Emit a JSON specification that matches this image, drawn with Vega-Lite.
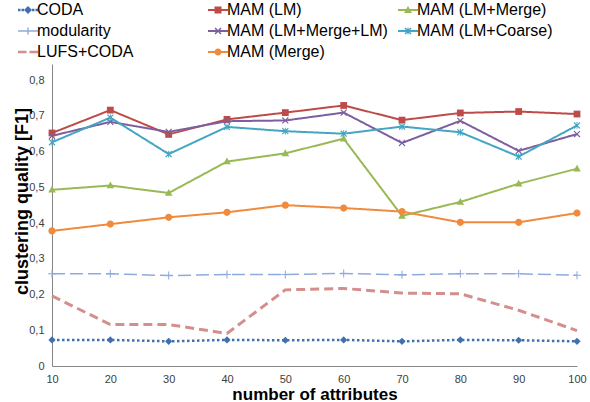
{
  "$schema": "https://vega.github.io/schema/vega-lite/v6.json",
  "width": 525,
  "height": 302,
  "autosize": {"type": "none"},
  "padding": {"left": 52, "top": 64, "right": 13, "bottom": 36},
  "background": "white",
  "config": {"view": {"stroke": null}, "font": "Liberation Sans"},
  "data": {"values": [
    {"series": "CODA", "x": 10, "y": 0.073}, {"series": "CODA", "x": 20, "y": 0.073}, {"series": "CODA", "x": 30, "y": 0.069}, {"series": "CODA", "x": 40, "y": 0.073}, {"series": "CODA", "x": 50, "y": 0.072}, {"series": "CODA", "x": 60, "y": 0.073}, {"series": "CODA", "x": 70, "y": 0.069}, {"series": "CODA", "x": 80, "y": 0.073}, {"series": "CODA", "x": 90, "y": 0.072}, {"series": "CODA", "x": 100, "y": 0.069},
    {"series": "MAM (LM)", "x": 10, "y": 0.652}, {"series": "MAM (LM)", "x": 20, "y": 0.716}, {"series": "MAM (LM)", "x": 30, "y": 0.648}, {"series": "MAM (LM)", "x": 40, "y": 0.69}, {"series": "MAM (LM)", "x": 50, "y": 0.709}, {"series": "MAM (LM)", "x": 60, "y": 0.729}, {"series": "MAM (LM)", "x": 70, "y": 0.688}, {"series": "MAM (LM)", "x": 80, "y": 0.708}, {"series": "MAM (LM)", "x": 90, "y": 0.712}, {"series": "MAM (LM)", "x": 100, "y": 0.705},
    {"series": "MAM (LM+Merge)", "x": 10, "y": 0.493}, {"series": "MAM (LM+Merge)", "x": 20, "y": 0.505}, {"series": "MAM (LM+Merge)", "x": 30, "y": 0.484}, {"series": "MAM (LM+Merge)", "x": 40, "y": 0.572}, {"series": "MAM (LM+Merge)", "x": 50, "y": 0.595}, {"series": "MAM (LM+Merge)", "x": 60, "y": 0.636}, {"series": "MAM (LM+Merge)", "x": 70, "y": 0.42}, {"series": "MAM (LM+Merge)", "x": 80, "y": 0.459}, {"series": "MAM (LM+Merge)", "x": 90, "y": 0.51}, {"series": "MAM (LM+Merge)", "x": 100, "y": 0.552},
    {"series": "modularity", "x": 10, "y": 0.258}, {"series": "modularity", "x": 20, "y": 0.258}, {"series": "modularity", "x": 30, "y": 0.253}, {"series": "modularity", "x": 40, "y": 0.256}, {"series": "modularity", "x": 50, "y": 0.256}, {"series": "modularity", "x": 60, "y": 0.259}, {"series": "modularity", "x": 70, "y": 0.255}, {"series": "modularity", "x": 80, "y": 0.258}, {"series": "modularity", "x": 90, "y": 0.258}, {"series": "modularity", "x": 100, "y": 0.254},
    {"series": "MAM (LM+Merge+LM)", "x": 10, "y": 0.644}, {"series": "MAM (LM+Merge+LM)", "x": 20, "y": 0.683}, {"series": "MAM (LM+Merge+LM)", "x": 30, "y": 0.655}, {"series": "MAM (LM+Merge+LM)", "x": 40, "y": 0.685}, {"series": "MAM (LM+Merge+LM)", "x": 50, "y": 0.687}, {"series": "MAM (LM+Merge+LM)", "x": 60, "y": 0.709}, {"series": "MAM (LM+Merge+LM)", "x": 70, "y": 0.624}, {"series": "MAM (LM+Merge+LM)", "x": 80, "y": 0.686}, {"series": "MAM (LM+Merge+LM)", "x": 90, "y": 0.602}, {"series": "MAM (LM+Merge+LM)", "x": 100, "y": 0.649},
    {"series": "MAM (LM+Coarse)", "x": 10, "y": 0.626}, {"series": "MAM (LM+Coarse)", "x": 20, "y": 0.695}, {"series": "MAM (LM+Coarse)", "x": 30, "y": 0.593}, {"series": "MAM (LM+Coarse)", "x": 40, "y": 0.669}, {"series": "MAM (LM+Coarse)", "x": 50, "y": 0.657}, {"series": "MAM (LM+Coarse)", "x": 60, "y": 0.65}, {"series": "MAM (LM+Coarse)", "x": 70, "y": 0.67}, {"series": "MAM (LM+Coarse)", "x": 80, "y": 0.654}, {"series": "MAM (LM+Coarse)", "x": 90, "y": 0.586}, {"series": "MAM (LM+Coarse)", "x": 100, "y": 0.673},
    {"series": "LUFS+CODA", "x": 10, "y": 0.196}, {"series": "LUFS+CODA", "x": 20, "y": 0.116}, {"series": "LUFS+CODA", "x": 30, "y": 0.116}, {"series": "LUFS+CODA", "x": 40, "y": 0.091}, {"series": "LUFS+CODA", "x": 50, "y": 0.213}, {"series": "LUFS+CODA", "x": 60, "y": 0.217}, {"series": "LUFS+CODA", "x": 70, "y": 0.204}, {"series": "LUFS+CODA", "x": 80, "y": 0.202}, {"series": "LUFS+CODA", "x": 90, "y": 0.156}, {"series": "LUFS+CODA", "x": 100, "y": 0.099},
    {"series": "MAM (Merge)", "x": 10, "y": 0.378}, {"series": "MAM (Merge)", "x": 20, "y": 0.397}, {"series": "MAM (Merge)", "x": 30, "y": 0.416}, {"series": "MAM (Merge)", "x": 40, "y": 0.43}, {"series": "MAM (Merge)", "x": 50, "y": 0.45}, {"series": "MAM (Merge)", "x": 60, "y": 0.442}, {"series": "MAM (Merge)", "x": 70, "y": 0.432}, {"series": "MAM (Merge)", "x": 80, "y": 0.402}, {"series": "MAM (Merge)", "x": 90, "y": 0.402}, {"series": "MAM (Merge)", "x": 100, "y": 0.428}
  ]},
  "encoding": {
    "x": {
      "field": "x", "type": "quantitative",
      "scale": {"domain": [10, 100], "nice": false, "zero": false},
      "axis": {
        "values": [10, 20, 30, 40, 50, 60, 70, 80, 90, 100],
        "grid": false, "ticks": false, "domainColor": "#868686", "domainWidth": 1,
        "labelFont": "Liberation Sans", "labelFontSize": 11, "labelColor": "#404040", "labelPadding": 7, "labelFlush": false,
        "title": "number of attributes", "titleFont": "Liberation Sans", "titleFontSize": 17, "titleFontWeight": "bold", "titleColor": "#000000",
        "titleBaseline": "middle", "titleY": 28
      }
    },
    "y": {
      "field": "y", "type": "quantitative",
      "scale": {"domain": [0, 0.845], "nice": false, "zero": true},
      "axis": {
        "values": [0, 0.1, 0.2, 0.3, 0.4, 0.5, 0.6, 0.7, 0.8],
        "labelExpr": "datum.value === 0 ? '0' : replace(format(datum.value, '.1f'), '.', ',')",
        "grid": false, "ticks": false, "domainColor": "#868686", "domainWidth": 1,
        "labelFont": "Liberation Sans", "labelFontSize": 11, "labelColor": "#404040", "labelPadding": 8,
        "title": "clustering quality [F1]", "titleFont": "Liberation Sans", "titleFontSize": 18, "titleFontWeight": "bold", "titleColor": "#000000",
        "titleBaseline": "middle", "titleAlign": "center", "titleAngle": 270, "titleX": -30, "titleY": 137
      }
    },
    "color": {
      "field": "series", "type": "nominal",
      "scale": {
        "domain": ["CODA", "MAM (LM)", "MAM (LM+Merge)", "modularity", "MAM (LM+Merge+LM)", "MAM (LM+Coarse)", "LUFS+CODA", "MAM (Merge)"],
        "range": ["#4170B0", "#BE4B48", "#98B954", "#8FAADC", "#7D5FA0", "#44A6C2", "#D48F8D", "#F08A3C"]
      },
      "legend": {
        "title": null, "orient": "none", "legendX": -41, "legendY": -64, "direction": "horizontal",
        "columns": 3, "gridAlign": "all", "columnPadding": 3, "rowPadding": 3,
        "symbolSize": 400, "symbolStrokeWidth": 0, "symbolOffset": 7, "labelOffset": -1, "labelFont": "Liberation Sans", "labelFontSize": 16, "labelColor": "#000000", "labelLimit": 300
      }
    }
  },
  "layer": [
    {
      "mark": {"type": "line", "strokeCap": "butt"},
      "encoding": {
        "strokeDash": {
          "field": "series", "type": "nominal",
          "scale": {
            "domain": ["CODA", "MAM (LM)", "MAM (LM+Merge)", "modularity", "MAM (LM+Merge+LM)", "MAM (LM+Coarse)", "LUFS+CODA", "MAM (Merge)"],
            "range": [[2.5, 2.5], [1, 0], [1, 0], [13, 5], [1, 0], [1, 0], [9, 5], [1, 0]]
          },
          "legend": null
        },
        "strokeWidth": {
          "condition": [
            {"test": "datum.series === 'LUFS+CODA'", "value": 3},
            {"test": "datum.series === 'CODA'", "value": 2.5},
            {"test": "datum.series === 'modularity'", "value": 1.5}
          ],
          "value": 2
        }
      }
    },
    {
      "transform": [{"filter": "datum.series === 'CODA'"}],
      "mark": {"type": "point", "filled": true, "size": 64, "opacity": 1, "shape": "M0,-0.9L0.9,0L0,0.9L-0.9,0Z"}
    },
    {
      "transform": [{"filter": "datum.series === 'MAM (LM)'"}],
      "mark": {"type": "point", "filled": true, "size": 64, "opacity": 1, "shape": "M-0.85,-0.85H0.85V0.85H-0.85Z"}
    },
    {
      "transform": [{"filter": "datum.series === 'MAM (LM+Merge)'"}],
      "mark": {"type": "point", "filled": true, "size": 64, "opacity": 1, "shape": "M0,-1L0.95,0.7H-0.95Z"}
    },
    {
      "transform": [{"filter": "datum.series === 'modularity'"}],
      "mark": {"type": "point", "filled": true, "size": 64, "opacity": 1, "shape": "M-1,-0.13H1V0.13H-1Z M-0.13,-1H0.13V1H-0.13Z"}
    },
    {
      "transform": [{"filter": "datum.series === 'MAM (LM+Merge+LM)'"}],
      "mark": {"type": "point", "filled": true, "size": 64, "opacity": 1, "shape": "M-0.85,-0.64L-0.64,-0.85L0,-0.21L0.64,-0.85L0.85,-0.64L0.21,0L0.85,0.64L0.64,0.85L0,0.21L-0.64,0.85L-0.85,0.64L-0.21,0Z"}
    },
    {
      "transform": [{"filter": "datum.series === 'MAM (LM+Coarse)'"}],
      "mark": {"type": "point", "filled": true, "size": 64, "opacity": 1, "shape": "M-0.85,-0.64L-0.64,-0.85L0,-0.21L0.64,-0.85L0.85,-0.64L0.21,0L0.85,0.64L0.64,0.85L0,0.21L-0.64,0.85L-0.85,0.64L-0.21,0Z M-0.12,-0.85H0.12V0.85H-0.12Z"}
    },
    {
      "transform": [{"filter": "datum.series === 'MAM (Merge)'"}],
      "mark": {"type": "point", "filled": true, "size": 64, "opacity": 1, "shape": "M-0.9,0A0.9,0.9 0 1,1 0.9,0A0.9,0.9 0 1,1 -0.9,0Z"}
    },
    {
      "transform": [{"filter": "false"}],
      "mark": {"type": "point", "filled": true, "opacity": 1},
      "encoding": {
        "shape": {
          "field": "series", "type": "nominal",
          "scale": {
            "domain": ["CODA", "MAM (LM)", "MAM (LM+Merge)", "modularity", "MAM (LM+Merge+LM)", "MAM (LM+Coarse)", "LUFS+CODA", "MAM (Merge)"],
            "range": [
              "M-1,-0.12H-0.75V0.12H-1Z M-0.65,-0.12H-0.4V0.12H-0.65Z M0.4,-0.12H0.65V0.12H0.4Z M0.75,-0.12H1V0.12H0.75Z M0,-0.4L0.4,0L0,0.4L-0.4,0Z",
              "M-1,-0.1H1V0.1H-1Z M-0.35,-0.35H0.35V0.35H-0.35Z",
              "M-1,-0.1H1V0.1H-1Z M0,-0.4L0.4,0.3H-0.4Z",
              "M-1,-0.07H-0.2V0.07H-1Z M0.35,-0.07H1V0.07H0.35Z M-0.35,-0.07H0.35V0.07H-0.35Z M-0.07,-0.35H0.07V0.35H-0.07Z",
              "M-1,-0.09H1V0.09H-1Z M-0.35,-0.245L-0.245,-0.35L0,-0.105L0.245,-0.35L0.35,-0.245L0.105,0L0.35,0.245L0.245,0.35L0,0.105L-0.245,0.35L-0.35,0.245L-0.105,0Z",
              "M-1,-0.09H1V0.09H-1Z M-0.35,-0.245L-0.245,-0.35L0,-0.105L0.245,-0.35L0.35,-0.245L0.105,0L0.35,0.245L0.245,0.35L0,0.105L-0.245,0.35L-0.35,0.245L-0.105,0Z M-0.05,-0.35H0.05V0.35H-0.05Z",
              "M-1,-0.13H-0.15V0.13H-1Z M0.15,-0.13H1V0.13H0.15Z",
              "M-1,-0.1H1V0.1H-1Z M-0.35,0A0.35,0.35 0 1,1 0.35,0A0.35,0.35 0 1,1 -0.35,0Z"
            ]
          },
          "legend": {
            "title": null, "orient": "none", "legendX": -41, "legendY": -64, "direction": "horizontal",
            "columns": 3, "gridAlign": "all", "columnPadding": 3, "rowPadding": 3,
            "symbolSize": 400, "symbolStrokeWidth": 0, "symbolOffset": 7, "labelOffset": -1, "labelFont": "Liberation Sans", "labelFontSize": 16, "labelColor": "#000000", "labelLimit": 300
          }
        }
      }
    }
  ]
}
